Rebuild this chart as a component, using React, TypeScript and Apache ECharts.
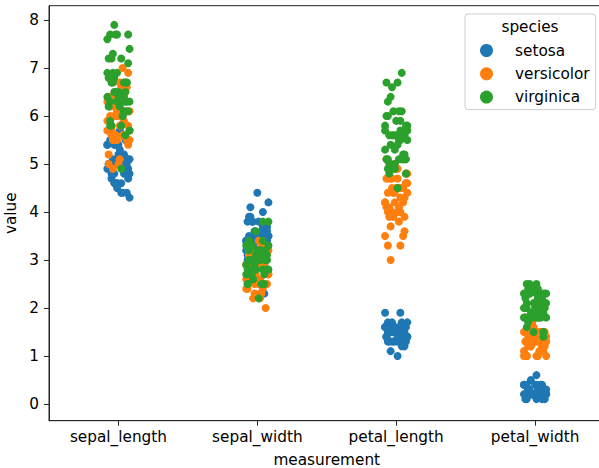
import React, { useEffect, useRef } from "react";
import * as echarts from "echarts";

// Fisher's iris measurements, rows 1-50 setosa, 51-100 versicolor, 101-150 virginica
const sepalLength = [
  5.1, 4.9, 4.7, 4.6, 5.0, 5.4, 4.6, 5.0, 4.4, 4.9, 5.4, 4.8, 4.8, 4.3, 5.8, 5.7, 5.4, 5.1, 5.7, 5.1, 5.4, 5.1, 4.6, 5.1, 4.8,
  5.0, 5.0, 5.2, 5.2, 4.7, 4.8, 5.4, 5.2, 5.5, 4.9, 5.0, 5.5, 4.9, 4.4, 5.1, 5.0, 4.5, 4.4, 5.0, 5.1, 4.8, 5.1, 4.6, 5.3, 5.0,
  7.0, 6.4, 6.9, 5.5, 6.5, 5.7, 6.3, 4.9, 6.6, 5.2, 5.0, 5.9, 6.0, 6.1, 5.6, 6.7, 5.6, 5.8, 6.2, 5.6, 5.9, 6.1, 6.3, 6.1, 6.4,
  6.6, 6.8, 6.7, 6.0, 5.7, 5.5, 5.5, 5.8, 6.0, 5.4, 6.0, 6.7, 6.3, 5.6, 5.5, 5.5, 6.1, 5.8, 5.0, 5.6, 5.7, 5.7, 6.2, 5.1, 5.7,
  6.3, 5.8, 7.1, 6.3, 6.5, 7.6, 4.9, 7.3, 6.7, 7.2, 6.5, 6.4, 6.8, 5.7, 5.8, 6.4, 6.5, 7.7, 7.7, 6.0, 6.9, 5.6, 7.7, 6.3, 6.7,
  7.2, 6.2, 6.1, 6.4, 7.2, 7.4, 7.9, 6.4, 6.3, 6.1, 7.7, 6.3, 6.4, 6.0, 6.9, 6.7, 6.9, 5.8, 6.8, 6.7, 6.7, 6.3, 6.5, 6.2, 5.9,
];
const sepalWidth = [
  3.5, 3.0, 3.2, 3.1, 3.6, 3.9, 3.4, 3.4, 2.9, 3.1, 3.7, 3.4, 3.0, 3.0, 4.0, 4.4, 3.9, 3.5, 3.8, 3.8, 3.4, 3.7, 3.6, 3.3, 3.4,
  3.0, 3.4, 3.5, 3.4, 3.2, 3.1, 3.4, 4.1, 4.2, 3.1, 3.2, 3.5, 3.6, 3.0, 3.4, 3.5, 2.3, 3.2, 3.5, 3.8, 3.0, 3.8, 3.2, 3.7, 3.3,
  3.2, 3.2, 3.1, 2.3, 2.8, 2.8, 3.3, 2.4, 2.9, 2.7, 2.0, 3.0, 2.2, 2.9, 2.9, 3.1, 3.0, 2.7, 2.2, 2.5, 3.2, 2.8, 2.5, 2.8, 2.9,
  3.0, 2.8, 3.0, 2.9, 2.6, 2.4, 2.4, 2.7, 2.7, 3.0, 3.4, 3.1, 2.3, 3.0, 2.5, 2.6, 3.0, 2.6, 2.3, 2.7, 3.0, 2.9, 2.9, 2.5, 2.8,
  3.3, 2.7, 3.0, 2.9, 3.0, 3.0, 2.5, 2.9, 2.5, 3.6, 3.2, 2.7, 3.0, 2.5, 2.8, 3.2, 3.0, 3.8, 2.6, 2.2, 3.2, 2.8, 2.8, 2.7, 3.3,
  3.2, 2.8, 3.0, 2.8, 3.0, 2.8, 3.8, 2.8, 2.8, 2.6, 3.0, 3.4, 3.1, 3.0, 3.1, 3.1, 3.1, 2.7, 3.2, 3.3, 3.0, 2.5, 3.0, 3.4, 3.0,
];
const petalLength = [
  1.4, 1.4, 1.3, 1.5, 1.4, 1.7, 1.4, 1.5, 1.4, 1.5, 1.5, 1.6, 1.4, 1.1, 1.2, 1.5, 1.3, 1.4, 1.7, 1.5, 1.7, 1.5, 1.0, 1.7, 1.9,
  1.6, 1.6, 1.5, 1.4, 1.6, 1.6, 1.5, 1.5, 1.4, 1.5, 1.2, 1.3, 1.4, 1.3, 1.5, 1.3, 1.3, 1.3, 1.6, 1.9, 1.4, 1.6, 1.4, 1.5, 1.4,
  4.7, 4.5, 4.9, 4.0, 4.6, 4.5, 4.7, 3.3, 4.6, 3.9, 3.5, 4.2, 4.0, 4.7, 3.6, 4.4, 4.5, 4.1, 4.5, 3.9, 4.8, 4.0, 4.9, 4.7, 4.3,
  4.4, 4.8, 5.0, 4.5, 3.5, 3.8, 3.7, 3.9, 5.1, 4.5, 4.5, 4.7, 4.4, 4.1, 4.0, 4.4, 4.6, 4.0, 3.3, 4.2, 4.2, 4.2, 4.3, 3.0, 4.1,
  6.0, 5.1, 5.9, 5.6, 5.8, 6.6, 4.5, 6.3, 5.8, 6.1, 5.1, 5.3, 5.5, 5.0, 5.1, 5.3, 5.5, 6.7, 6.9, 5.0, 5.7, 4.9, 6.7, 4.9, 5.7,
  6.0, 4.8, 4.9, 5.6, 5.8, 6.1, 6.4, 5.6, 5.1, 5.6, 6.1, 5.6, 5.5, 4.8, 5.4, 5.6, 5.1, 5.1, 5.9, 5.7, 5.2, 5.0, 5.2, 5.4, 5.1,
];
const petalWidth = [
  0.2, 0.2, 0.2, 0.2, 0.2, 0.4, 0.3, 0.2, 0.2, 0.1, 0.2, 0.2, 0.1, 0.1, 0.2, 0.4, 0.4, 0.3, 0.3, 0.3, 0.2, 0.4, 0.2, 0.5, 0.2,
  0.2, 0.4, 0.2, 0.2, 0.2, 0.2, 0.4, 0.1, 0.2, 0.2, 0.2, 0.2, 0.1, 0.2, 0.2, 0.3, 0.3, 0.2, 0.6, 0.4, 0.3, 0.2, 0.2, 0.2, 0.2,
  1.4, 1.5, 1.5, 1.3, 1.5, 1.3, 1.6, 1.0, 1.3, 1.4, 1.0, 1.5, 1.0, 1.4, 1.3, 1.4, 1.5, 1.0, 1.5, 1.1, 1.8, 1.3, 1.5, 1.2, 1.3,
  1.4, 1.4, 1.7, 1.5, 1.0, 1.1, 1.0, 1.2, 1.6, 1.5, 1.6, 1.5, 1.3, 1.3, 1.3, 1.2, 1.4, 1.2, 1.0, 1.3, 1.2, 1.3, 1.3, 1.1, 1.3,
  2.5, 1.9, 2.1, 1.8, 2.2, 2.1, 1.7, 1.8, 1.8, 2.5, 2.0, 1.9, 2.1, 2.0, 2.4, 2.3, 1.8, 2.2, 2.3, 1.5, 2.3, 2.0, 2.0, 1.8, 2.1,
  1.8, 1.8, 1.8, 2.1, 1.6, 1.9, 2.0, 2.2, 1.5, 1.4, 2.3, 2.4, 1.8, 1.8, 2.1, 2.4, 2.3, 1.9, 2.3, 2.5, 2.3, 1.9, 2.0, 2.3, 1.8,
];

const measurements = ["sepal_length", "sepal_width", "petal_length", "petal_width"];
const species = ["setosa", "versicolor", "virginica"];
const speciesColors = ["#1f77b4", "#ff7f0e", "#2ca02c"];
const yTicks = [0, 1, 2, 3, 4, 5, 6, 7, 8];
const xTicks = [0, 1, 2, 3];

// Fixed horizontal strip offsets (in category units) so points in a column don't stack
const jitter = [
  0.03, -0.06, 0.07, -0.01, 0.05, -0.08, 0.02, -0.04, 0.06, -0.07, 0.0, 0.04, -0.03, 0.08, -0.05, 0.01, -0.02, 0.07, -0.06,
  0.03, -0.08, 0.05, -0.01, 0.06, -0.04, 0.02, -0.07, 0.04, 0.0, -0.05, 0.08, -0.03, 0.01, -0.06, 0.07, -0.02, 0.05, -0.08,
  0.03, -0.04, 0.06, -0.01, 0.02, -0.07, 0.04, -0.05, 0.08, -0.03, 0.01, -0.06,
];

const FONT = "DejaVu Sans";
const FS = 15.3;

export default function App() {
  const ref = useRef<HTMLDivElement>(null);

  useEffect(() => {
    if (!ref.current) return;
    const chart = echarts.init(ref.current, undefined, { renderer: "svg" });
    const columns = [sepalLength, sepalWidth, petalLength, petalWidth];

    const series = species.map((name, s) => {
      const data: number[][] = [];
      columns.forEach((col, m) => {
        for (let i = s * 50; i < s * 50 + 50; i++) {
          data.push([m + jitter[(i + 13 * m) % jitter.length], col[i]]);
        }
      });
      return {
        name,
        type: "scatter",
        data,
        symbol: "circle",
        symbolSize: 8,
        itemStyle: { color: speciesColors[s], opacity: 1 },
        emphasis: { disabled: true },
      };
    });

    chart.setOption({
      animation: false,
      textStyle: { fontFamily: FONT },
      grid: {
        left: 49,
        top: 5.7,
        width: 555.5,
        height: 415,
        show: true,
        borderColor: "#262626",
        borderWidth: 1,
        containLabel: false,
        outerBoundsMode: "none",
      },
      xAxis: {
        type: "value",
        min: -0.5,
        max: 3.5,
        name: "measurement",
        nameLocation: "middle",
        nameGap: 31.5,
        nameTextStyle: { fontSize: FS, color: "#000", fontFamily: FONT },
        axisLine: { show: true, onZero: false, lineStyle: { color: "#262626", width: 1 } },
        axisTick: { show: true, customValues: xTicks, length: 5, lineStyle: { color: "#262626" } },
        axisLabel: {
          customValues: xTicks,
          formatter: (v: number) => measurements[Math.round(v)],
          fontSize: FS,
          color: "#000",
          margin: 9,
          fontFamily: FONT,
        },
        splitLine: { show: false },
      },
      yAxis: {
        type: "value",
        min: -0.35,
        max: 8.3,
        name: "value",
        nameLocation: "middle",
        nameGap: 27,
        nameRotate: 90,
        nameTextStyle: { fontSize: FS, color: "#000", fontFamily: FONT },
        axisLine: { show: true, onZero: false, lineStyle: { color: "#262626", width: 1 } },
        axisTick: { show: true, customValues: yTicks, length: 5, lineStyle: { color: "#262626" } },
        axisLabel: {
          customValues: yTicks,
          fontSize: FS,
          color: "#000",
          margin: 10,
          fontFamily: FONT,
        },
        splitLine: { show: false },
      },
      legend: {
        data: species,
        orient: "vertical",
        left: 465,
        top: 14,
        icon: "circle",
        itemWidth: 13,
        itemHeight: 13,
        itemGap: 6.3,
        padding: [28, 6, 4, 15],
        borderColor: "#cccccc",
        borderWidth: 1,
        borderRadius: 3,
        backgroundColor: "rgba(255,255,255,0.8)",
        textStyle: { fontSize: FS, color: "#000", fontFamily: FONT, lineHeight: 17, padding: [0, 0, 0, 17] },
        selectedMode: false,
      },
      graphic: [
        {
          type: "text",
          x: 530,
          y: 27,
          z: 100,
          style: {
            text: "species",
            fontSize: FS,
            fill: "#000",
            fontFamily: FONT,
            textAlign: "center",
            textVerticalAlign: "middle",
          },
        },
      ],
      series,
    });

    return () => chart.dispose();
  }, []);

  return (
    <div
      ref={ref}
      style={{ position: "fixed", left: 0, top: 0, width: 599, height: 468, background: "#fff" }}
    />
  );
}
